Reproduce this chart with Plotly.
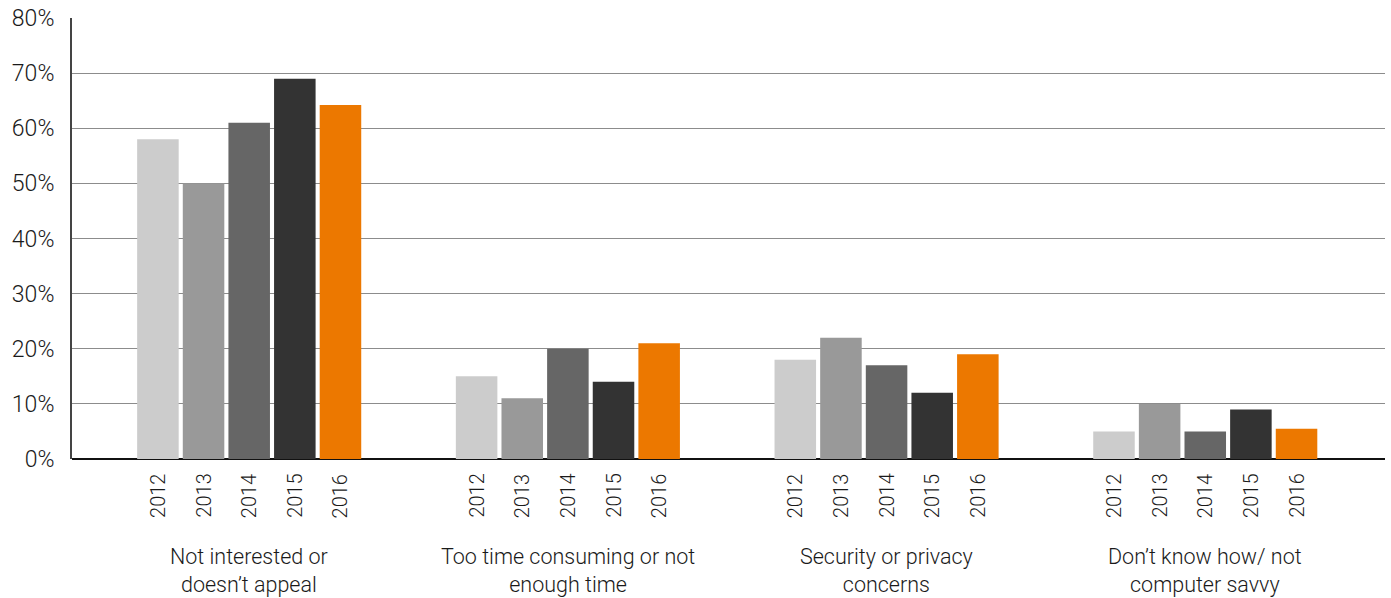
import plotly.graph_objects as go

# Reasons for not using the service, share of respondents by survey year
groups = ["Not interested or<br>doesn’t appeal",
          "Too time consuming or not<br>enough time",
          "Security or privacy<br>concerns",
          "Don’t know how/ not<br>computer savvy"]
years = ["2012", "2013", "2014", "2015", "2016"]
values = {
    "2012": [58, 15, 18, 5],
    "2013": [50, 11, 22, 10],
    "2014": [61, 20, 17, 5],
    "2015": [69, 14, 12, 9],
    "2016": [64.2, 21, 19, 5.5],
}
colors = ["#cccccc", "#999999", "#666666", "#333333", "#ec7800"]
y_ticks = [0, 10, 20, 30, 40, 50, 60, 70, 80]

FONT = "Roboto"
TEXT = "#1a1a1a"

bargap = 0.284
groupgap = 0.09
n = len(years)
slot = (1 - bargap) / n

fig = go.Figure()
gx = list(range(len(groups)))
for i, yr in enumerate(years):
    fig.add_trace(go.Bar(
        x=gx, y=values[yr], name=yr,
        marker=dict(color=colors[i], line=dict(width=0)),
    ))

annotations = []
for g in gx:
    for i, yr in enumerate(years):
        xc = g + (i - (n - 1) / 2) * slot
        annotations.append(dict(
            x=xc, y=0, xref="x", yref="y", text=yr, showarrow=False,
            textangle=-90, xanchor="center", yanchor="top", yshift=-13,
            font=dict(family=FONT, size=20, color=TEXT, weight=300),
        ))
    annotations.append(dict(
        x=g, y=0, xref="x", yref="y", text=groups[g], showarrow=False,
        xanchor="center", yanchor="top", yshift=-83,
        font=dict(family=FONT, size=21.5, color=TEXT, weight=300),
    ))

fig.update_layout(
    width=1391, height=598,
    margin=dict(l=72, r=6, t=18, b=139),
    paper_bgcolor="white", plot_bgcolor="white",
    barmode="group", bargap=bargap, bargroupgap=groupgap,
    showlegend=False,
    annotations=annotations,
    xaxis=dict(range=[-0.556, 3.564], showticklabels=False, showgrid=False,
               zeroline=False, showline=False, ticks=""),
    yaxis=dict(range=[0, 80], tickvals=y_ticks,
               ticktext=[f"{v}%" for v in y_ticks],
               showgrid=True, gridcolor="#8c8c8c", gridwidth=1,
               zeroline=True, zerolinecolor="#111111", zerolinewidth=2,
               showline=True, linecolor="#444444", linewidth=2,
               ticks="", ticklabelstandoff=11,
               tickfont=dict(family=FONT, size=23, color=TEXT, weight=300)),
)

fig.write_html("out.html")
